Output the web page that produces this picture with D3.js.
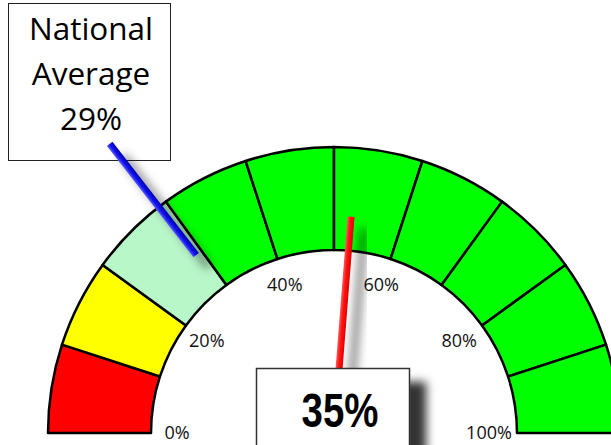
<!DOCTYPE html>
<html>
<head>
<meta charset="utf-8">
<script src="https://cdn.jsdelivr.net/npm/d3@7"></script>
<style>
  html, body { margin: 0; padding: 0; background: #fff; }
  svg { display: block; }
</style>
</head>
<body>
<svg id="chart" width="611" height="445"></svg>
<script>
// Dial bands (percent ranges) and their fills
const bandStarts = [0, 10, 20, 30, 40, 50, 60, 70, 80, 90];
const bandEnds   = [10, 20, 30, 40, 50, 60, 70, 80, 90, 100];
const bandColors = ["#ff0000", "#ffff00", "#b8f7c8", "#00ff00", "#00ff00",
                    "#00ff00", "#00ff00", "#00ff00", "#00ff00", "#00ff00"];
const tickValues = [0, 20, 40, 60, 80, 100];
const tickLabels = ["0%", "20%", "40%", "60%", "80%", "100%"];

// Readings
const scoreValue = 35;          // pointer + value box
const nationalAverage = 29;     // blue marker + callout
const pointerGain = 1.5;        // the red pointer turns 1.5x the dial rate

const svg = d3.select("#chart");
const cx = 334, cy = 433;
const rOuter = 286, rInner = 183;

const angle = d3.scaleLinear().domain([0, 100]).range([-Math.PI / 2, Math.PI / 2]);
const polar = (r, a) => [cx + r * Math.sin(a), cy - r * Math.cos(a)];

const defs = svg.append("defs");
function shadow(id, dx, dy, sd, op) {
  const f = defs.append("filter").attr("id", id)
    .attr("x", "-50%").attr("y", "-50%").attr("width", "200%").attr("height", "200%");
  f.append("feDropShadow").attr("dx", dx).attr("dy", dy)
    .attr("stdDeviation", sd).attr("flood-color", "#000").attr("flood-opacity", op);
}
shadow("needleShadow", 13, 12, 5, 0.5);
shadow("boxShadow", 16, 14, 5, 0.8);

// Dial
const arc = d3.arc().innerRadius(rInner).outerRadius(rOuter);
const bands = bandStarts.map((s, i) => ({ s, e: bandEnds[i], c: bandColors[i] }));
svg.append("g").selectAll("path").data(bands).join("path")
  .attr("transform", `translate(${cx},${cy})`)
  .attr("d", d => arc({ startAngle: angle(d.s), endAngle: angle(d.e) }))
  .attr("fill", d => d.c)
  .attr("stroke", "#000")
  .attr("stroke-width", 2.5)
  .attr("stroke-linejoin", "round");

// Percent labels inside the dial
svg.append("g").selectAll("text").data(tickValues).join("text")
  .attr("x", d => polar(156, angle(d))[0] - 1)
  .attr("y", d => polar(156, angle(d))[1] - 1)
  .attr("text-anchor", "middle")
  .attr("dominant-baseline", "central")
  .attr("font-family", "'Open Sans', sans-serif")
  .attr("font-size", 18)
  .attr("fill", "#111")
  .text((d, i) => tickLabels[i]);

// Needle: a thin bar along the radius, shaded across its width
function needle(value, r0, r1, width, colors, scale) {
  const a = angle(value * scale);
  const nx = Math.cos(a) * width / 2, ny = Math.sin(a) * width / 2;
  const [x0, y0] = polar(r0, a), [x1, y1] = polar(r1, a);
  const id = "grad" + colors[0].slice(1);
  const g = defs.append("linearGradient").attr("id", id)
    .attr("gradientUnits", "userSpaceOnUse")
    .attr("x1", x1 - nx).attr("y1", y1 - ny)
    .attr("x2", x1 + nx).attr("y2", y1 + ny);
  g.append("stop").attr("offset", 0).attr("stop-color", colors[1]);
  g.append("stop").attr("offset", 0.45).attr("stop-color", colors[0]);
  g.append("stop").attr("offset", 1).attr("stop-color", colors[2]);
  const pts = [[x0 - nx, y0 - ny], [x1 - nx, y1 - ny], [x1 + nx, y1 + ny], [x0 + nx, y0 + ny]];
  svg.append("path")
    .attr("d", d3.line()(pts) + "Z")
    .attr("fill", `url(#${id})`)
    .attr("filter", "url(#needleShadow)");
}

// Red pointer (its hub sits behind the score box)
needle(scoreValue, 0, 217, 7, ["#ff1010", "#ff5a5a", "#e00000"], pointerGain);

// National average callout
const callout = svg.append("g");
callout.append("rect")
  .attr("x", 8.5).attr("y", 3.5).attr("width", 162).attr("height", 157)
  .attr("fill", "#fff").attr("stroke", "#222").attr("stroke-width", 1);
["National", "Average", nationalAverage + "%"].forEach((t, i) => {
  callout.append("text")
    .attr("x", 91).attr("y", 40 + i * 45)
    .attr("text-anchor", "middle")
    .attr("font-family", "'Open Sans', sans-serif")
    .attr("font-size", 31.5)
    .attr("fill", "#000")
    .text(t);
});

needle(nationalAverage, 225, 366, 7, ["#1010ee", "#5a5aff", "#0000b0"], 1);

// Score box
const box = svg.append("g");
box.append("rect")
  .attr("x", 256.5).attr("y", 368.5).attr("width", 153).attr("height", 100)
  .attr("fill", "#fff").attr("stroke", "#333").attr("stroke-width", 1.5)
  .attr("filter", "url(#boxShadow)");
box.append("text")
  .attr("transform", "translate(340,427) scale(0.8,1)")
  .attr("text-anchor", "middle")
  .attr("font-family", "'Liberation Sans', Arial, sans-serif")
  .attr("font-weight", "bold")
  .attr("font-size", 48)
  .attr("fill", "#000")
  .text(scoreValue + "%");
</script>
</body>
</html>
